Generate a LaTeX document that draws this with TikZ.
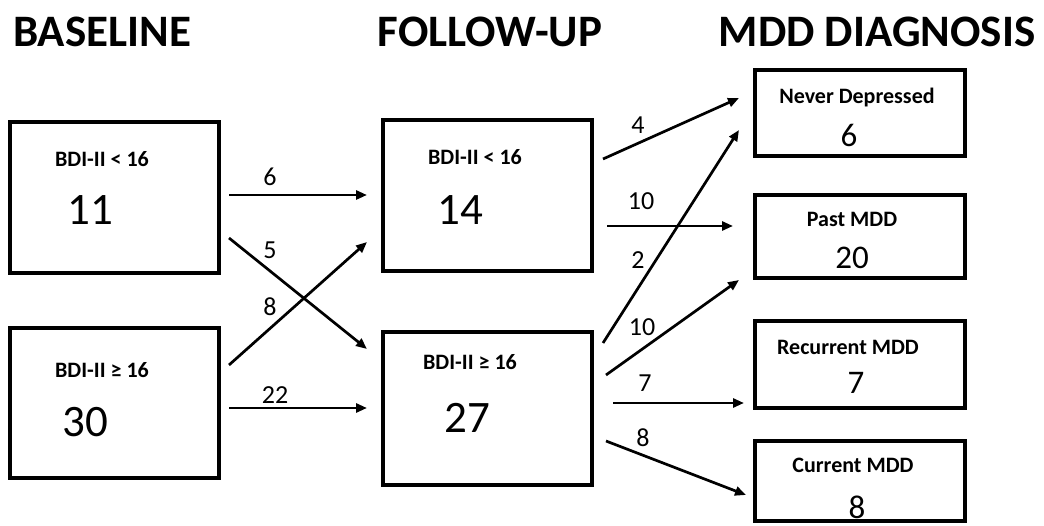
\documentclass[tikz,border=0pt]{standalone}
\usepackage{fontspec}
\setmainfont{Carlito}
\usetikzlibrary{arrows.meta}
\tikzset{
  box/.style={draw=black, line width=3.2pt, minimum width=#1, inner sep=0pt},
  hdr/.style={font=\fontsize{45}{50}\selectfont\bfseries, inner sep=0pt},
  blab/.style={font=\fontsize{22}{25}\selectfont\bfseries, inner sep=0pt},
  rlab/.style={font=\fontsize{22}{25}\selectfont\bfseries, inner sep=0pt},
  bignum/.style={font=\fontsize{45}{49}\selectfont, inner sep=0pt},
  rnum/.style={font=\fontsize{33}{37}\selectfont, inner sep=0pt},
  elab/.style={font=\fontsize{26}{29}\selectfont, inner sep=0pt},
  arr/.style={line width=2.7pt, -{Triangle[length=11pt,width=9pt]}}
}
\begin{document}
\begin{tikzpicture}[x=1pt,y=1pt]
\useasboundingbox[fill=white] (0,0) rectangle (1044,525);
% headers
\node[hdr] (h1) at (102,493) {BASELINE};
\node[hdr] (h2) at (490,493) {FOLLOW-UP};
\node[hdr] (h3) at (877,493) {MDD DIAGNOSIS};
% baseline boxes
\node[box=209pt, minimum height=151pt] (b1) at (114.5,327.5) {};
\node[box=209pt, minimum height=150pt] (b2) at (114.5,122) {};
\node[blab] (b1t) at (102,366) {BDI-II < 16};
\node[bignum] (b1n) at (90,315) {11};
\node[blab] (b2t) at (102,155) {BDI-II ≥ 16};
\node[bignum] (b2n) at (85,103) {30};
% follow-up boxes
\node[box=209pt, minimum height=151pt] (f1) at (487.5,329.5) {};
\node[box=209pt, minimum height=153pt] (f2) at (487.5,116.5) {};
\node[blab] (f1t) at (475,368) {BDI-II < 16};
\node[bignum] (f1n) at (460,315) {14};
\node[blab] (f2t) at (470,163) {BDI-II ≥ 16};
\node[bignum] (f2n) at (467,107) {27};
% diagnosis boxes
\node[box=210pt, minimum height=86pt] (d1) at (860,412) {};
\node[box=210pt, minimum height=83pt] (d2) at (860,288.5) {};
\node[box=210pt, minimum height=87pt] (d3) at (860,160.5) {};
\node[box=210pt, minimum height=80pt] (d4) at (860,44) {};
\node[rlab] (d1t) at (857,427) {Never Depressed};
\node[rnum] (d1n) at (849,390) {6};
\node[rlab] (d2t) at (852,306) {Past MDD};
\node[rnum] (d2n) at (852,267) {20};
\node[rlab] (d3t) at (848,178) {Recurrent MDD};
\node[rnum] (d3n) at (856,142) {7};
\node[rlab] (d4t) at (853,60) {Current MDD};
\node[rnum] (d4n) at (857,18) {8};
% connector end points
\coordinate (s6) at (229,330);  \coordinate (e6) at (367,330);
\coordinate (s5) at (229,287);  \coordinate (e5) at (367,176);
\coordinate (s8) at (229,160);  \coordinate (e8) at (367,283);
\coordinate (s22) at (229,117); \coordinate (e22) at (367,117);
\coordinate (t4s) at (603,366); \coordinate (t4e) at (739,427);
\coordinate (t10s) at (607,299); \coordinate (t10e) at (733,299);
\coordinate (t2s) at (603,182); \coordinate (t2e) at (739,395);
\coordinate (u10s) at (606,150); \coordinate (u10e) at (739,245);
\coordinate (t7s) at (613,122); \coordinate (t7e) at (744,122);
\coordinate (t8s) at (606,84);  \coordinate (t8e) at (746,30);
% connectors
\draw[arr] (s6) -- (e6);
\draw[arr] (s5) -- (e5);
\draw[arr] (s8) -- (e8);
\draw[arr] (s22) -- (e22);
\draw[arr] (t4s) -- (t4e);
\draw[arr] (t10s) -- (t10e);
\draw[arr] (t2s) -- (t2e);
\draw[arr] (u10s) -- (u10e);
\draw[arr] (t7s) -- (t7e);
\draw[arr] (t8s) -- (t8e);
% connector labels
\node[elab] (l6) at (270,348) {6};
\node[elab] (l5) at (270,275) {5};
\node[elab] (l8) at (270,218) {8};
\node[elab] (l22) at (275,130) {22};
\node[elab] (l4) at (638,400) {4};
\node[elab] (l10) at (641,324) {10};
\node[elab] (l2) at (638,265) {2};
\node[elab] (l10b) at (642,198) {10};
\node[elab] (l7) at (645,142) {7};
\node[elab] (l8b) at (643,87) {8};
\end{tikzpicture}
\end{document}
